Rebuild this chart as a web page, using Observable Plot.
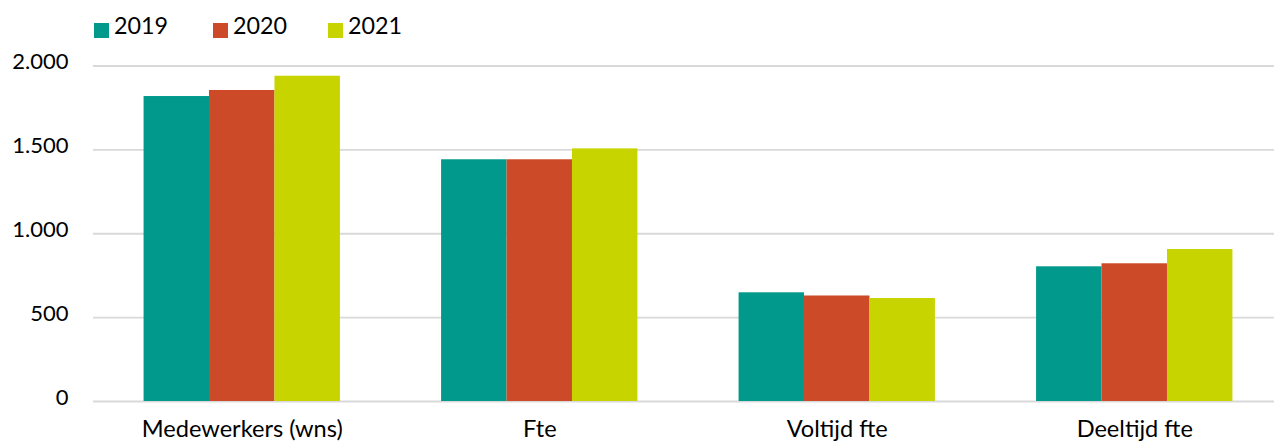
<!DOCTYPE html>
<html>
<head>
<meta charset="utf-8">
<script src="https://cdn.jsdelivr.net/npm/d3@7"></script>
<script src="https://cdn.jsdelivr.net/npm/@observablehq/plot@0.6"></script>
<style>
  html, body { margin: 0; padding: 0; background: #fff; overflow: hidden; }
  #legend { position: relative; height: 46px; font-family: Lato, sans-serif; font-size: 23.3px; color: #000; }
  .item { position: absolute; top: 11px; display: flex; align-items: baseline; white-space: nowrap; }
  .sw { display: inline-block; width: 15px; height: 15px; margin-right: 5px; position: relative; top: 4px; }
  #chart svg { display: block; overflow: visible; }
</style>
</head>
<body>
<div id="legend"></div>
<div id="chart"></div>
<script>
const categories = ["Medewerkers (wns)", "Fte", "Voltijd fte", "Deeltijd fte"];
const years = ["2019", "2020", "2021"];
const v2019 = [1818, 1441, 648, 803];
const v2020 = [1854, 1441, 629, 821];
const v2021 = [1939, 1506, 614, 906];
const colors = ["#00998b", "#cc4a27", "#c8d400"];
const yTicks = [0, 500, 1000, 1500, 2000];
const legendX = [94, 213, 328];

const series = [v2019, v2020, v2021];
const barW = 0.22;
const data = categories.flatMap((c, i) => years.map((yr, j) => ({
  category: c, year: yr, value: series[j][i],
  x1: i + 0.5 - 1.5 * barW + j * barW,
  x2: i + 0.5 - 1.5 * barW + (j + 1) * barW
})));

// legend
const legend = document.getElementById("legend");
years.forEach((yr, j) => {
  const it = document.createElement("div");
  it.className = "item";
  it.style.left = legendX[j] + "px";
  it.innerHTML = `<span class="sw" style="background:${colors[j]}"></span><span>${yr}</span>`;
  legend.appendChild(it);
});

const fmt = d => d3.format(",")(d).replace(/,/g, ".");
const catTicks = categories.map((c, i) => i + 0.5);
const catFmt = d => categories[Math.round(d - 0.5)];

const chart = Plot.plot({
  width: 1274,
  height: 395,
  marginLeft: 93,
  marginRight: -9,
  marginTop: 19.5,
  marginBottom: 40,
  style: { fontFamily: "Lato, sans-serif", fontSize: "22px", color: "#000", background: "#fff" },
  x: { domain: [0, 4], ticks: catTicks, tickFormat: catFmt, tickSize: 0, tickPadding: 20, label: null },
  y: { domain: [0, 2000], ticks: yTicks, tickFormat: fmt, tickSize: 0, tickPadding: 25, label: null },
  color: { domain: years, range: colors },
  marks: [
    Plot.ruleY(yTicks, { stroke: "#d9d9d9", strokeWidth: 1.8 }),
    Plot.rectY(data, { x1: "x1", x2: "x2", y: "value", fill: "year" }),
    Plot.axisY({ ticks: yTicks, tickFormat: fmt, tickSize: 0, tickPadding: 25, dy: -4, label: null }),
    Plot.axisX({ ticks: catTicks, tickFormat: catFmt, tickSize: 0, tickPadding: 19, fontSize: 23.6, label: null })
  ]
});
document.getElementById("chart").appendChild(chart);
</script>
</body>
</html>
